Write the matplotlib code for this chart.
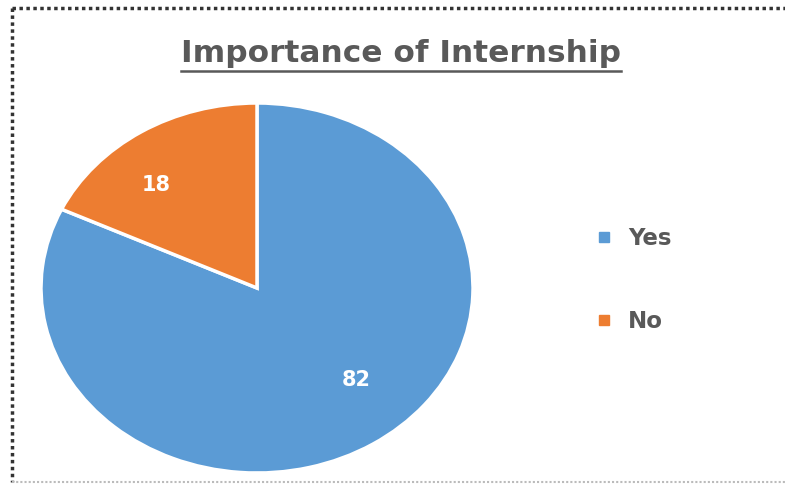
import matplotlib
matplotlib.use("Agg")
import matplotlib.pyplot as plt
from matplotlib.lines import Line2D

title = "Importance of Internship"
categories = ["Yes", "No"]
values = [82, 18]
colors = ["#5B9BD5", "#ED7D31"]

W, H = 785, 484
fig = plt.figure(figsize=(W / 100, H / 100), dpi=100)
fig.patch.set_facecolor("white")

# pie axes: centre (257, 288) px, radii 216 x 185 px (stretched like the reference)
cx, cy, rx, ry = 257, 288, 216, 185
ax = fig.add_axes([(cx - rx) / W, (H - cy - ry) / H, 2 * rx / W, 2 * ry / H])
wedges, _ = ax.pie(values, colors=colors, startangle=90, counterclock=False,
                   wedgeprops=dict(edgecolor="white", linewidth=2.5))
ax.set_xlim(-1, 1)
ax.set_ylim(-1, 1)
ax.set_aspect("auto")
ax.axis("off")

# data labels (Excel-style positions)
label_pos = {"Yes": (0.46, -0.497), "No": (-0.465, 0.557)}
for cat, v in zip(categories, values):
    x, y = label_pos[cat]
    ax.text(x, y, str(v), color="white", fontsize=15, fontweight="bold",
            family="DejaVu Sans", ha="center", va="center")

# title with underline
t = fig.text(401 / W, 1 - 53 / H, title, ha="center", va="center", fontsize=22.5,
             fontweight="bold", color="#595959", family="DejaVu Sans")
fig.canvas.draw()
bb = t.get_window_extent(fig.canvas.get_renderer())
uy = (H - 71) / H
fig.add_artist(Line2D([bb.x0 / W, bb.x1 / W], [uy, uy], color="#595959", lw=1.8,
                      transform=fig.transFigure))

# legend
handles = [Line2D([0], [0], marker="s", linestyle="none", markersize=7,
                  markerfacecolor=c, markeredgecolor=c) for c in colors]
leg = fig.legend(handles, categories, loc="center left",
                 bbox_to_anchor=(572 / W, 1 - 280 / H), frameon=False,
                 prop=dict(family="DejaVu Sans", weight="bold", size=16.5),
                 labelcolor="#595959", labelspacing=2.65, handletextpad=0.55,
                 handlelength=1.0)

# dotted border
fig.add_artist(Line2D([12 / W, 12 / W], [1 - 8 / H, 1 - 482 / H], color="#333333",
                      lw=2.5, linestyle=(0, (1, 1)), transform=fig.transFigure))
fig.add_artist(Line2D([12 / W, 1.0], [1 - 8 / H, 1 - 8 / H], color="#333333",
                      lw=2.5, linestyle=(0, (1, 1)), transform=fig.transFigure))
fig.add_artist(Line2D([12 / W, 1.0], [1 - 482 / H, 1 - 482 / H], color="#bbbbbb",
                      lw=1.5, linestyle=(0, (1, 1)), transform=fig.transFigure))

fig.savefig("out.png", dpi=100, facecolor="white")
